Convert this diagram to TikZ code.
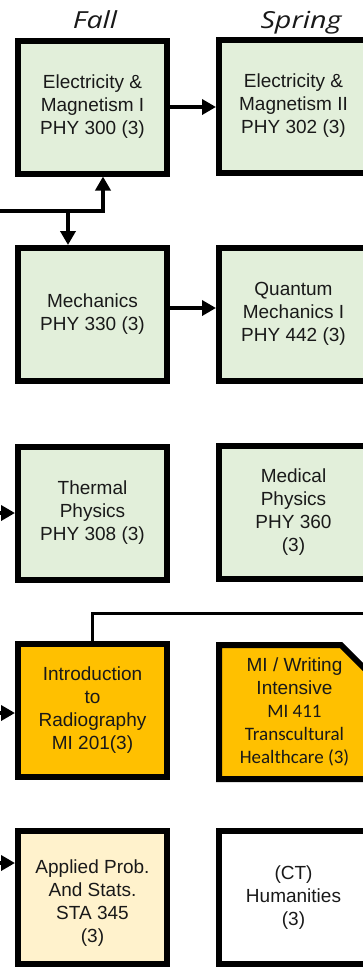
\documentclass[tikz,border=0pt]{standalone}
\usepackage{fontspec}
\setmainfont{Liberation Sans}
\newfontfamily\arialf{Liberation Sans}
\newfontfamily\calibf{Carlito}
\newfontfamily\headf[FakeStretch=1.22]{Open Sans}
\usetikzlibrary{arrows.meta,calc}
\definecolor{boxgreen}{HTML}{E2EFDA}
\definecolor{boxorange}{HTML}{FFC000}
\definecolor{boxcream}{HTML}{FFF2CC}
\begin{document}
\begin{tikzpicture}[x=1pt,y=1pt,
  course/.style={draw=black, line width=6pt, minimum width=149pt, minimum height=133pt,
    align=center, inner sep=0pt, text=black!90,
    font=\arialf\fontsize{19}{23}\selectfont},
  green/.style={course, fill=boxgreen},
  conn/.style={line width=4pt, -{Triangle[length=14pt,width=15pt]}},
  plain/.style={line width=3pt},
  head/.style={font=\headf\itshape\fontsize{23.5}{27}\selectfont, text=black!90, inner sep=0pt, anchor=base}]
\useasboundingbox (0,0) rectangle (363,-967);
\clip (0,0) rectangle (363,-967);
% headers
\node[head] (fall) at (95,-28.5) {Fall};
\node[head] (spring) at (301,-28.5) {Spring};
% row 1
\node[green] (em1) at (92.5,-107) {Electricity \&\\Magnetism I\\PHY 300 (3)};
\node[green] (em2) at (293.5,-106) {Electricity \&\\Magnetism II\\PHY 302 (3)};
% row 2
\node[green] (mech) at (92.5,-314.5) {Mechanics\\PHY 330 (3)};
\node[green] (qm) at (293.5,-314) {Quantum\\Mechanics I\\PHY 442 (3)};
% row 3
\node[green] (th) at (92.5,-513) {Thermal\\Physics\\PHY 308 (3)};
\node[green] (med) at (293.5,-512.5) {Medical\\Physics\\PHY 360\\(3)};
% row 4
\node[course, fill=boxorange] (intro) at (92.5,-710.5) {Introduction\\to\\Radiography\\MI 201(3)};
\draw[line width=6pt, fill=boxorange, line join=miter]
  (219,-645) -- (341,-645) -- (368,-672) -- (368,-779) -- (219,-779) -- cycle;
\node[align=center, inner sep=0pt, text=black!90, font=\arialf\fontsize{19}{23}\selectfont] (mi) at (294.5,-712)
  {MI / Writing\\Intensive\\{\calibf MI 411}\\{\calibf Transcultural}\\{\calibf Healthcare (3)}};
% row 5
\node[course, fill=boxcream, minimum height=133pt] (app) at (92.5,-897.5) {};
\node[align=center, inner sep=0pt, text=black!90, font=\arialf\fontsize{19}{23}\selectfont] (apptxt) at (92.5,-903.5)
  {Applied Prob.\\And Stats.\\STA 345\\(3)};
\node[course, fill=white] (hum) at (293.5,-897.5) {(CT)\\Humanities\\(3)};
% connectors
\draw[conn] (em1.east) -- (em1.east -| em2.west);
\draw[conn] ($(mech.east)+(0,6.5)$) -- ($(mech.east -| qm.west)+(0,6.5)$);
\coordinate (in1) at (0,-211);
\coordinate (j1) at (103,-211);
\coordinate (j2) at (68,-211);
\draw[conn] (in1) -- (j1) -- (j1 |- em1.south);
\draw[conn] (j2) -- (j2 |- mech.north);
\coordinate (inT) at (-10,-513);
\draw[conn] (inT) -- (inT -| th.west);
\coordinate (inI) at (-10,-713);
\draw[conn] (inI) -- (inI -| intro.west);
\coordinate (inA) at (-10,-863);
\draw[conn] (inA) -- (inA -| app.west);
\coordinate (k1) at (92,-613);
\coordinate (out1) at (370,-613);
\draw[plain] (k1 |- intro.north) -- (k1) -- (out1);
\end{tikzpicture}
\end{document}
